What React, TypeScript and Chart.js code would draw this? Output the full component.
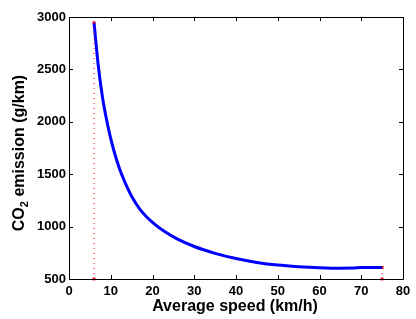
import React, { useEffect, useRef } from 'react';
import { Chart, registerables } from 'chart.js';

Chart.register(...registerables);

const speeds = [6, 7, 8, 9, 10, 11, 12, 13, 14, 15, 17, 20, 23, 26, 30, 35, 40, 45, 50, 55, 60, 65, 68, 70, 75];
const co2 = [2945, 2540, 2240, 2020, 1840, 1690, 1565, 1460, 1370, 1290, 1165, 1040, 950, 880, 810, 745, 695, 658, 633, 618, 608, 603, 604, 610, 610];
const markerSpeeds = [6, 6, 75, 75];
const markerCo2 = [2945, 500, 610, 500];
const xTicks = [0, 10, 20, 30, 40, 50, 60, 70, 80];
const yTicks = [500, 1000, 1500, 2000, 2500, 3000];

const FONT = '"Liberation Sans", Arial, Helvetica, sans-serif';

const framePlugin = {
  id: 'frame',
  afterDraw(chart: any) {
    const { ctx, chartArea } = chart;
    const { left, right, top, bottom } = chartArea;
    const xs = chart.scales.x;
    const ys = chart.scales.y;
    ctx.save();
    ctx.strokeStyle = '#000';
    ctx.lineWidth = 1;
    ctx.beginPath();
    ctx.rect(Math.round(left) + 0.5, Math.round(top) + 0.5, Math.round(right - left), Math.round(bottom - top));
    ctx.stroke();
    const tl = 4;
    ctx.beginPath();
    xTicks.forEach((v) => {
      const px = Math.round(xs.getPixelForValue(v)) + 0.5;
      ctx.moveTo(px, bottom);
      ctx.lineTo(px, bottom - tl);
      ctx.moveTo(px, top);
      ctx.lineTo(px, top + tl);
    });
    yTicks.forEach((v) => {
      const py = Math.round(ys.getPixelForValue(v)) + 0.5;
      ctx.moveTo(left, py);
      ctx.lineTo(left + tl, py);
      ctx.moveTo(right, py);
      ctx.lineTo(right - tl, py);
    });
    ctx.stroke();

    // x title
    ctx.fillStyle = '#000';
    ctx.font = `bold 16px ${FONT}`;
    ctx.textAlign = 'center';
    ctx.textBaseline = 'middle';
    ctx.fillText('Average speed (km/h)', (left + right) / 2 - 1, 307);

    // y title with subscript
    const big = `bold 16px ${FONT}`;
    const small = `bold 11px ${FONT}`;
    ctx.font = big;
    const wCO = ctx.measureText('CO').width;
    const wRest = ctx.measureText(' emission (g/km)').width;
    ctx.font = small;
    const wSub = ctx.measureText('2').width;
    const total = wCO + wSub + wRest;
    ctx.translate(24, (top + bottom) / 2 + 5);
    ctx.rotate(-Math.PI / 2);
    ctx.textAlign = 'left';
    ctx.textBaseline = 'alphabetic';
    let x = -total / 2;
    ctx.font = big;
    ctx.fillText('CO', x, 0);
    x += wCO;
    ctx.font = small;
    ctx.fillText('2', x, 4);
    x += wSub;
    ctx.font = big;
    ctx.fillText(' emission (g/km)', x, 0);
    ctx.restore();
  },
};

export default function App() {
  const ref = useRef<HTMLCanvasElement | null>(null);
  useEffect(() => {
    if (!ref.current) return;
    const chart = new Chart(ref.current, {
      type: 'scatter',
      data: {
        datasets: [
          {
            data: [
              { x: markerSpeeds[0], y: markerCo2[1] },
              { x: markerSpeeds[0], y: markerCo2[0] },
            ],
            showLine: true,
            borderColor: '#ff0000',
            borderWidth: 1,
            borderDash: [1, 4],
            pointRadius: 0,
            clip: false,
          } as any,
          {
            data: [
              { x: markerSpeeds[2], y: markerCo2[3] },
              { x: markerSpeeds[2], y: markerCo2[2] },
            ],
            showLine: true,
            borderColor: '#ff0000',
            borderWidth: 1,
            borderDash: [1, 4],
            pointRadius: 0,
            clip: false,
          } as any,
          {
            data: speeds.map((s, i) => ({ x: s, y: co2[i] })),
            showLine: true,
            borderColor: '#0000ff',
            borderWidth: 3,
            pointRadius: 0,
            cubicInterpolationMode: 'monotone',
            clip: false,
          } as any,
          {
            data: markerSpeeds.map((s, i) => ({ x: s, y: markerCo2[i] })),
            showLine: false,
            backgroundColor: '#ff0000',
            borderColor: '#ff0000',
            pointStyle: 'rect',
            pointRadius: 2,
            borderWidth: 0,
            clip: false,
          } as any,
        ],
      },
      options: {
        animation: false,
        responsive: false,
        maintainAspectRatio: false,
        layout: { padding: { top: 17, right: 13, left: 0, bottom: 0 } },
        plugins: { legend: { display: false }, tooltip: { enabled: false } },
        scales: {
          x: {
            type: 'linear',
            min: 0,
            max: 80,
            afterFit: (s: any) => { s.height = 40; },
            afterBuildTicks: (s: any) => { s.ticks = xTicks.map((v) => ({ value: v })); },
            grid: { display: false, drawTicks: false },
            border: { display: false },
            ticks: {
              color: '#000',
              padding: 5,
              font: { family: FONT, size: 13, weight: 'bold' },
              maxRotation: 0,
              callback: (v: any) => String(v),
            },
          },
          y: {
            type: 'linear',
            min: 500,
            max: 3000,
            afterFit: (s: any) => { s.width = 69; },
            afterBuildTicks: (s: any) => { s.ticks = yTicks.map((v) => ({ value: v })); },
            grid: { display: false, drawTicks: false },
            border: { display: false },
            ticks: {
              color: '#000',
              padding: 3,
              font: { family: FONT, size: 13, weight: 'bold' },
              callback: (v: any) => String(v),
            },
          },
        },
      },
      plugins: [framePlugin],
    });
    return () => chart.destroy();
  }, []);
  return (
    <div style={{ position: 'fixed', left: 0, top: 0, width: 416, height: 319, background: '#fff' }}>
      <canvas ref={ref} width={416} height={319} style={{ width: 416, height: 319 }} />
    </div>
  );
}
